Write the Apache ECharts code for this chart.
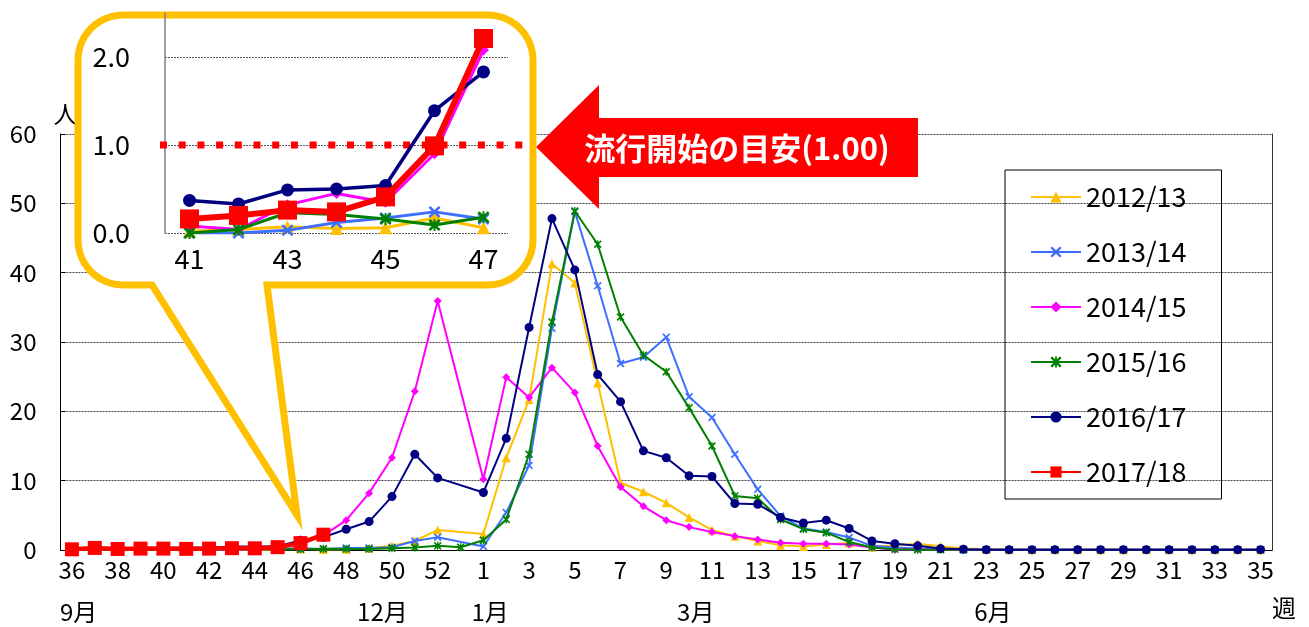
<!DOCTYPE html>
<html><head><meta charset="utf-8">
<script src="https://cdn.jsdelivr.net/npm/echarts@6.0.0/dist/echarts.min.js"></script>
<style>
html,body{margin:0;padding:0;background:#fff;}
#mainDiv,#topDiv{position:absolute;left:0;top:0;width:1309px;height:627px;}
</style>
</head><body>
<div id="mainDiv"></div><div id="topDiv"></div>
<script>
// ---------- DATA ----------
const weeks = [36,37,38,39,40,41,42,43,44,45,46,47,48,49,50,51,52,53,1,2,3,4,5,6,7,8,9,10,11,12,13,14,15,16,17,18,19,20,21,22,23,24,25,26,27,28,29,30,31,32,33,34,35];
const seasonNames = ['2012/13','2013/14','2014/15','2015/16','2016/17','2017/18'];
const s2012 = [0.0,0.0,0.02,0.02,0.02, 0.02,0.04,0.07,0.05,0.06,0.17,0.06, 0.1,0.3,0.6,1.3,2.9, null,
  2.3,13.3,21.7,41.3,38.5,24.1,9.7,8.4,6.8,4.7,2.9,2.0,
  1.3,0.7,0.5,0.8,1.0,0.45,0.7,0.9,0.55,0.2,
  0.1,0.05,0.05,0.05,0.03,0.03,0.02,0.02,0.02,0.02,0.02,0.02,0.02];
const s2013 = [0.0,0.0,0.0,0.0,0.0, 0.0,0.0,0.03,0.12,0.17,0.24,0.16, 0.3,0.3,0.4,1.3,1.85, null,
  0.5,5.4,12.2,32.0,48.8,38.1,26.9,27.8,30.7,22.1,19.1,13.8,
  8.75,4.9,3.1,2.6,1.8,0.6,0.35,0.2,0.1,0.05,
  0.03,0.03,0.02,0.02,0.02,0.02,0.02,0.02,0.02,0.02,0.02,0.02,0.02];
const s2014 = [0.05,0.05,0.05,0.08,0.08, 0.08,0.04,0.32,0.45,0.35,0.9,2.08, 4.3,8.2,13.3,22.9,35.9, null,
  10.2,24.9,22.0,26.3,22.7,15.0,9.1,6.3,4.3,3.3,2.6,2.0,
  1.5,1.05,0.9,0.9,0.8,0.35,0.05,0.1,0.05,0.03,
  0.02,0.02,0.02,0.02,0.02,0.02,0.02,0.02,0.02,0.02,0.02,0.02,0.02];
const s2015 = [0.0,0.0,0.0,0.0,0.0, 0.0,0.04,0.23,0.21,0.16,0.09,0.18, 0.15,0.15,0.25,0.35,0.6, 0.4,
  1.4,4.4,13.8,32.9,48.9,44.1,33.6,28.1,25.7,20.5,15.0,7.8,
  7.45,4.4,3.0,2.5,1.15,0.35,0.1,0.05,0.03,0.02,
  0.02,0.02,0.02,0.02,0.02,0.02,0.02,0.02,0.02,0.02,0.02,0.02,0.02];
const s2016 = [0.2,0.25,0.2,0.25,0.3, 0.37,0.33,0.49,0.5,0.54,1.39,1.83, 3.0,4.1,7.7,13.8,10.4, null,
  8.3,16.1,32.1,47.8,40.4,25.3,21.4,14.3,13.3,10.7,10.6,6.7,
  6.6,4.7,3.9,4.3,3.1,1.3,0.9,0.6,0.2,0.1,
  0.05,0.05,0.05,0.05,0.05,0.05,0.05,0.05,0.05,0.05,0.05,0.05,0.05];
const s2017 = [0.1,0.3,0.15,0.2,0.2,0.16,0.2,0.26,0.24,0.41,0.99,2.21];
const insetWeeks = [41,42,43,44,45,46,47];
const threshold = 1.0;
const monthWeeks = [36,49,1,10,23];
const monthNames = ['9月','12月','1月','3月','6月'];
const calloutText = '流行開始の目安(1.00)';

// ---------- STYLE ----------
const seasonData = [s2012,s2013,s2014,s2015,s2016,s2017];
const FONT = '"Noto Sans CJK JP","Noto Sans",sans-serif';
const colors = ['#FFC000','#3F6FFF','#FF00FF','#008000','#000080','#FF0000'];
const X_PATH = 'path://M0,1.5 L1.5,0 L5,3.5 L8.5,0 L10,1.5 L6.5,5 L10,8.5 L8.5,10 L5,6.5 L1.5,10 L0,8.5 L3.5,5 Z';
const AST_PATH = 'path://M0,1.5 L1.5,0 L5,3.5 L8.5,0 L10,1.5 L6.5,5 L10,8.5 L8.5,10 L5,6.5 L1.5,10 L0,8.5 L3.5,5 Z M4.2,0 L5.8,0 L5.8,10 L4.2,10 Z';
const symbols = ['triangle', X_PATH, 'diamond', AST_PATH, 'circle', 'rect'];
const mainSizes = [9,8,8,8,9,14];
const insetSizes = [13,12,11,12,13,19];
const mainWidths = [2,2,2,2,2,4.5];
const insetWidths = [3,3,3,3,3.5,6];

// ---------- MAIN CHART ----------
const mainChart = echarts.init(document.getElementById('mainDiv'));
mainChart.setOption({
  animation:false,
  backgroundColor:'#fff',
  textStyle:{fontFamily:FONT},
  grid:{left:60.5,right:37,top:134,bottom:77,containLabel:false},
  legend:{
    orient:'vertical', left:1005, top:170,
    padding:[12,35,12,25],
    borderColor:'#000', borderWidth:1,
    itemWidth:50, itemHeight:14, itemGap:25,
    textStyle:{fontSize:27,color:'#000',lineHeight:30,fontFamily:FONT},
    data:seasonNames
  },
  xAxis:{
    type:'category', data:weeks.map(String), boundaryGap:true,
    axisLine:{lineStyle:{color:'#000',width:1}},
    axisTick:{show:false},
    axisLabel:{interval:1,fontSize:24,color:'#000',margin:8,fontFamily:FONT},
    splitLine:{show:false},
    name:'週', nameLocation:'end', nameGap:0,
    nameTextStyle:{fontSize:24,color:'#000',align:'left',verticalAlign:'top',padding:[46,0,0,0],fontFamily:FONT}
  },
  yAxis:[{
    type:'value', min:0, max:60, interval:10,
    axisLine:{show:true,lineStyle:{color:'#000',width:1}},
    axisTick:{show:true,inside:true,length:5,lineStyle:{color:'#000'}},
    axisLabel:{fontSize:24,color:'#000',margin:24,fontFamily:FONT},
    splitLine:{show:true,showMinLine:false,lineStyle:{color:'#444',type:[2,1],width:1}},
    name:'人', nameLocation:'end', nameGap:8,
    nameTextStyle:{fontSize:24,color:'#000',align:'center',verticalAlign:'bottom',padding:[0,0,0,10],fontFamily:FONT}
  },{
    type:'value', min:0, max:60, interval:10, position:'right',
    axisLine:{show:true,lineStyle:{color:'#333',width:1}},
    axisTick:{show:false}, axisLabel:{show:false}, splitLine:{show:false}
  }],
  series: seasonNames.map((n,k)=>({
    name:n, type:'line', data:seasonData[k], connectNulls:true,
    symbol:symbols[k], symbolSize:mainSizes[k], showAllSymbol:true,
    lineStyle:{color:colors[k],width:mainWidths[k]},
    itemStyle:{color:colors[k]},
    z:2+k
  }))
});
const monthGraphics = monthWeeks.map((w,k)=>{
  const px = mainChart.convertToPixel({xAxisIndex:0}, weeks.indexOf(w));
  return {type:'text', x:px-12, y:612,
    style:{text:monthNames[k], fill:'#000', font:'24px '+FONT, textAlign:'left', textVerticalAlign:'middle', align:'left', verticalAlign:'middle'}};
});
mainChart.setOption({graphic:{elements:monthGraphics}});

// ---------- TOP LAYER: callout + inset + arrow ----------
// rounded-rectangle speech bubble outline (decoration, not data)
function arcPts(cx, cy, r, a0, a1){
  const pts = [];
  for(let i=0;i<=12;i++){
    const a = (a0 + (a1-a0)*i/12) * Math.PI/180;
    pts.push([cx + r*Math.cos(a), cy + r*Math.sin(a)]);
  }
  return pts;
}
const BX0=78, BX1=533, BY0=15, BY1=285, BR=45;
const calloutPts = [].concat(
  arcPts(BX1-BR, BY0+BR, BR, -90, 0),
  arcPts(BX1-BR, BY1-BR, BR, 0, 90),
  [[267,BY1],[297,515],[152,BY1]],
  arcPts(BX0+BR, BY1-BR, BR, 90, 180),
  arcPts(BX0+BR, BY0+BR, BR, 180, 270)
);

const topChart = echarts.init(document.getElementById('topDiv'));
const baseGraphics = [
  {type:'polygon', z:1,
    shape:{points:[[536,147],[599,85],[599,118],[918,118],[918,177],[599,177],[599,209]]},
    style:{fill:'#FF0000'}},
  {type:'text', z:2, x:737, y:148,
    style:{text:calloutText, fill:'#fff', font:'bold 31px '+FONT, textAlign:'center', textVerticalAlign:'middle', align:'center', verticalAlign:'middle'}},
  {type:'polygon', z:3,
    shape:{points:calloutPts},
    style:{fill:'#fff', stroke:'#FFC000', lineWidth:7, lineJoin:'miter', miterLimit:20}}
];
topChart.setOption({
  animation:false,
  backgroundColor:'transparent',
  textStyle:{fontFamily:FONT},
  graphic:{elements:baseGraphics},
  grid:{left:165,right:801,top:13,bottom:394,containLabel:false},
  xAxis:{
    type:'category', data:insetWeeks.map(String), boundaryGap:true, z:10,
    axisLine:{show:false}, axisTick:{show:false},
    axisLabel:{interval:1,fontSize:27,color:'#000',margin:12,fontFamily:FONT}
  },
  yAxis:{
    type:'value', min:0, max:2.5, interval:1, z:10,
    axisLine:{show:true,lineStyle:{color:'#808080',width:1.5}},
    axisTick:{show:false},
    axisLabel:{fontSize:27,color:'#000',margin:35,showMaxLabel:false,fontFamily:FONT,
      formatter:v=>v.toFixed(1)},
    splitLine:{show:true,showMaxLine:false,lineStyle:{color:'#555',type:[2,1],width:1}}
  },
  series: seasonNames.map((n,k)=>({
    name:n, type:'line',
    data:seasonData[k].slice(weeks.indexOf(insetWeeks[0]), weeks.indexOf(insetWeeks[insetWeeks.length-1])+1),
    symbol:symbols[k], symbolSize:insetSizes[k], showAllSymbol:true,
    lineStyle:{color:colors[k],width:insetWidths[k]},
    itemStyle:{color:colors[k]},
    z:20+k
  }))
});
// threshold dotted line at y = 1.0 (placed through the inset's value scale)
const thrY = topChart.convertToPixel({yAxisIndex:0}, threshold);
topChart.setOption({graphic:{elements: baseGraphics.concat([
  {type:'line', z:15, shape:{x1:160, y1:thrY, x2:524, y2:thrY},
    style:{stroke:'#FF0000', lineWidth:7, lineDash:[7,11.7], lineCap:'butt'}}
])}});
</script>
</body></html>
